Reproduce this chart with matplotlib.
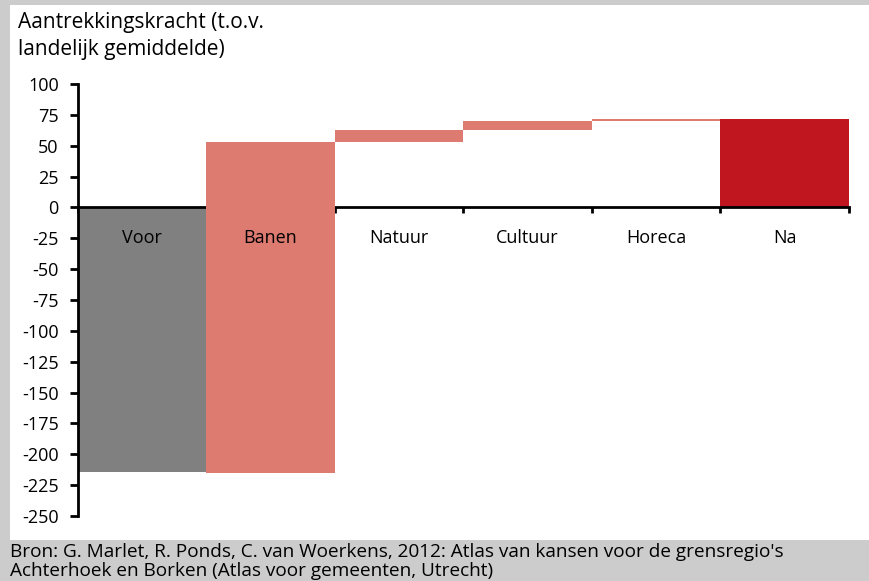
import matplotlib.pyplot as plt
from matplotlib.patches import Rectangle

plt.rcParams['font.family'] = ['Open Sans', 'DejaVu Sans']
plt.rcParams['axes.unicode_minus'] = False

categories = ['Voor', 'Banen', 'Natuur', 'Cultuur', 'Horeca', 'Na']
# waterfall: each bar runs from start to end
starts = [0, -215, 53, 63, 70.3, 0]
ends = [-214, 53, 63, 70.3, 71.8, 71.8]
colors = ['#808080', '#DE7B70', '#DE7B70', '#DE7B70', '#DE7B70', '#C0161F']

fig = plt.figure(figsize=(8.69, 5.81), dpi=100)
fig.patch.set_facecolor('#CCCCCC')
# white panel inside the grey frame
fig.patches.append(Rectangle((10 / 869, 41 / 581), 1 - 10 / 869, 1 - 46 / 581,
                             transform=fig.transFigure, facecolor='white',
                             edgecolor='none', zorder=-5))

ax = fig.add_axes([77.5 / 869, 1 - 516 / 581, (849 - 77.5) / 869, (516 - 84) / 581])
ax.set_facecolor('none')

x = [i + 0.5 for i in range(len(categories))]
bottoms = [min(s, e) for s, e in zip(starts, ends)]
heights = [abs(e - s) for s, e in zip(starts, ends)]
bars = ax.bar(x, heights, bottom=bottoms, width=1.0, color=colors, zorder=2)
bars[1].set_zorder(4)  # Banen sits over the zero line

ax.set_xlim(0, 6)
ax.set_ylim(-250, 100)
ax.set_yticks(range(-250, 101, 25))
ax.tick_params(axis='y', direction='out', length=5.5, width=2, labelsize=13, pad=8)

ax.spines['top'].set_visible(False)
ax.spines['right'].set_visible(False)
ax.spines['left'].set_linewidth(2)
ax.spines['bottom'].set_position(('data', 0))
ax.spines['bottom'].set_linewidth(2)
ax.spines['bottom'].set_zorder(3)
ax.set_xticks(range(0, 7))
ax.set_xticklabels([])
ax.tick_params(axis='x', direction='out', length=4, width=2)

for xi, name in zip(x, categories):
    ax.text(xi, -25, name, ha='center', va='center', fontsize=13, zorder=5)

fig.text(18 / 869, 1 - 12 / 581, 'Aantrekkingskracht (t.o.v.\nlandelijk gemiddelde)',
         ha='left', va='top', fontsize=15, linespacing=1.35)

fig.text(10 / 869, 1 - 543 / 581,
         "Bron: G. Marlet, R. Ponds, C. van Woerkens, 2012: Atlas van kansen voor de grensregio's\n"
         "Achterhoek en Borken (Atlas voor gemeenten, Utrecht)",
         ha='left', va='top', fontsize=13.7, linespacing=1.05)

fig.savefig('out.png', dpi=100, facecolor=fig.get_facecolor())
